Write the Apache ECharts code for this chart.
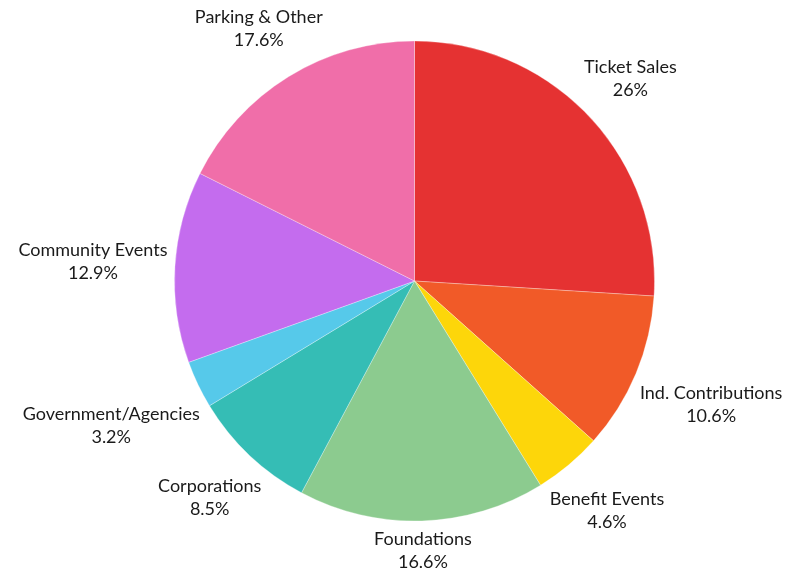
<!DOCTYPE html>
<html>
<head>
<meta charset="utf-8">
<script src="https://cdn.jsdelivr.net/npm/echarts@6/dist/echarts.min.js"></script>
<style>
html,body{margin:0;padding:0;background:#fff;}
#chart{width:798px;height:569px;}
</style>
</head>
<body>
<div id="chart"></div>
<script>
var categories = ["Ticket Sales", "Ind. Contributions", "Benefit Events", "Foundations", "Corporations", "Government/Agencies", "Community Events", "Parking & Other"];
var values = [26, 10.6, 4.6, 16.6, 8.5, 3.2, 12.9, 17.6];
var colors = ["#E53232", "#F15A28", "#FDD60A", "#8CCB8F", "#35BDB5", "#56C9EA", "#C46CEE", "#F06EA9"];

var CX = 414.5, CY = 281, R = 240, GAP = 247;
var total = values.reduce(function (a, b) { return a + b; }, 0);
var cum = [];
values.reduce(function (acc, v, i) { cum[i] = acc; return acc + v; }, 0);

var chart = echarts.init(document.getElementById('chart'));
chart.setOption({
  animation: false,
  backgroundColor: '#ffffff',
  series: [{
    type: 'pie',
    center: [CX, CY],
    radius: R,
    startAngle: 90,
    clockwise: true,
    avoidLabelOverlap: false,
    itemStyle: { borderColor: '#ffffff', borderWidth: 0.3 },
    label: {
      show: true,
      position: 'outside',
      color: '#1a1a1a',
      fontFamily: 'Lato',
      fontSize: 18,
      lineHeight: 23,
      align: 'center',
      formatter: function (p) { return p.name + '\n' + values[p.dataIndex] + '%'; }
    },
    labelLine: { show: false },
    labelLayout: function (p) {
      var i = p.dataIndex;
      var mid = (cum[i] + values[i] / 2) / total * 2 * Math.PI;
      var ux = Math.sin(mid), uy = -Math.cos(mid);
      var hw = p.labelRect.width / 2, hh = p.labelRect.height / 2;
      var lo = 0, hi = 800, t = 0;
      for (var k = 0; k < 60; k++) {
        t = (lo + hi) / 2;
        var dx = Math.max(Math.abs(t * ux) - hw, 0);
        var dy = Math.max(Math.abs(t * uy) - hh, 0);
        if (Math.sqrt(dx * dx + dy * dy) < GAP) lo = t; else hi = t;
      }
      return { x: CX + t * ux, y: CY + t * uy, align: 'center', verticalAlign: 'middle' };
    },
    data: categories.map(function (c, i) {
      return { name: c, value: values[i], itemStyle: { color: colors[i] } };
    })
  }]
});
</script>
</body>
</html>
